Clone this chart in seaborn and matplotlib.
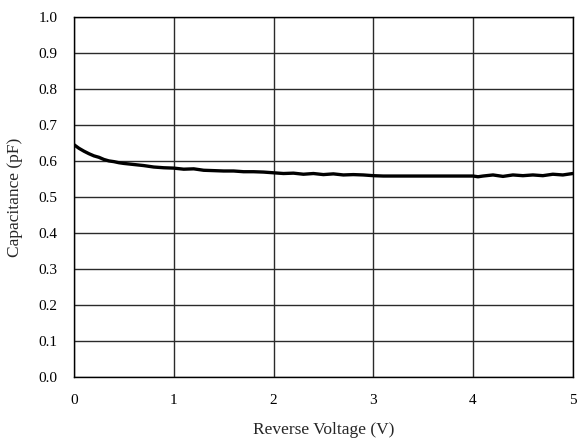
import matplotlib
matplotlib.use("Agg")
import matplotlib.pyplot as plt
import seaborn as sns
import pandas as pd

voltage = [0.0, 0.05, 0.1, 0.15, 0.2, 0.25, 0.3, 0.35, 0.4, 0.45, 0.5, 0.6, 0.7, 0.8, 0.9,
           1.0, 1.1, 1.2, 1.3, 1.4, 1.5, 1.6, 1.7, 1.8, 1.9, 2.0, 2.1, 2.2, 2.3, 2.4, 2.5,
           2.6, 2.7, 2.8, 2.9, 3.0, 3.1, 3.2, 3.3, 3.4, 3.5, 3.6, 3.7, 3.8, 3.9, 4.0, 4.05,
           4.1, 4.2, 4.3, 4.4, 4.5, 4.6, 4.7, 4.8, 4.9, 5.0]
capacitance = [0.645, 0.635, 0.627, 0.620, 0.614, 0.610, 0.604, 0.600, 0.598, 0.595, 0.593,
               0.590, 0.587, 0.583, 0.581, 0.580, 0.577, 0.578, 0.574, 0.573, 0.572, 0.572,
               0.570, 0.570, 0.569, 0.567, 0.565, 0.566, 0.563, 0.565, 0.562, 0.564, 0.561,
               0.562, 0.561, 0.559, 0.558, 0.558, 0.558, 0.558, 0.558, 0.558, 0.558, 0.558,
               0.558, 0.558, 0.556, 0.558, 0.561, 0.557, 0.561, 0.559, 0.561, 0.559, 0.563,
               0.561, 0.565]
x_ticks = [0, 1, 2, 3, 4, 5]
y_ticks = [0.0, 0.1, 0.2, 0.3, 0.4, 0.5, 0.6, 0.7, 0.8, 0.9, 1.0]

sns.set_style("white")
plt.rcParams['font.family'] = ['Liberation Serif', 'DejaVu Serif']

df = pd.DataFrame({"V": voltage, "C": capacitance})

fig = plt.figure(figsize=(5.78, 4.45), dpi=100)
ax = fig.add_axes([0.128, 0.153, 0.863, 0.809])
ax.set_axisbelow(True)
ax.grid(True, color="#2a2a2a", linewidth=1.0)
sns.lineplot(data=df, x="V", y="C", ax=ax, color="black", linewidth=2.4)

ax.set_xlim(0, 5)
ax.set_ylim(0, 1.0)
ax.set_xticks(x_ticks)
ax.set_xticklabels([str(t) for t in x_ticks])
ax.set_yticks(y_ticks)
ax.set_yticklabels([f"{t:.1f}" for t in y_ticks])
ax.tick_params(length=0, labelsize=11, colors="black", pad=12)
for s in ax.spines.values():
    s.set_visible(True)
    s.set_color("black")
    s.set_linewidth(1.0)
ax.set_xlabel("Reverse Voltage (V)", fontsize=12.5, labelpad=11)
ax.set_ylabel("Capacitance (pF)", fontsize=12.5, labelpad=11)

fig.savefig("out.png", dpi=100, facecolor="white")
